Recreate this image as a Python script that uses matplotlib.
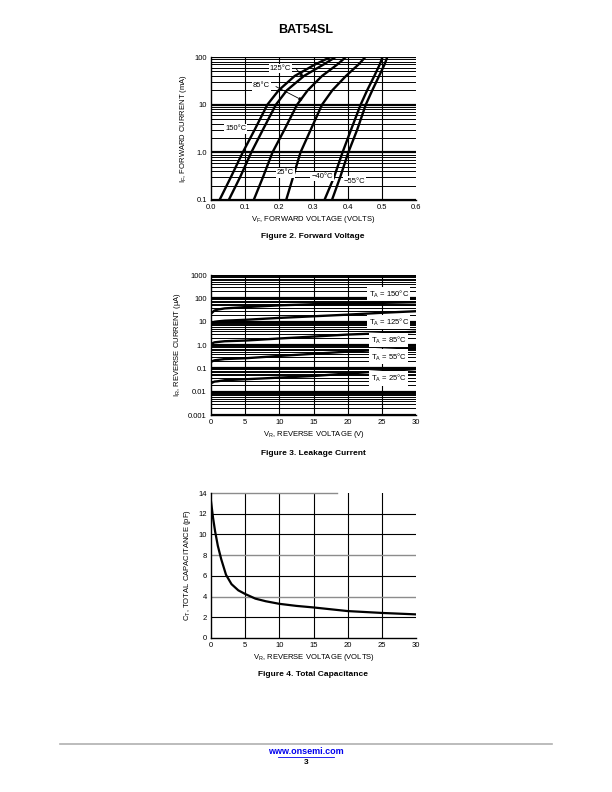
import matplotlib
matplotlib.use("Agg")
import matplotlib.pyplot as plt
from matplotlib.ticker import FixedLocator, NullFormatter
import numpy as np

plt.rcParams['font.family'] = ['Liberation Sans', 'DejaVu Sans']

# ---- Figure 2: forward voltage (V) at each forward current (mA)
if_ma = [0.1, 0.3, 1, 3, 10, 20, 40, 70, 100]
vf_150 = [0.025, 0.058, 0.093, 0.128, 0.165, 0.198, 0.245, 0.305, 0.350]
vf_125 = [0.052, 0.085, 0.118, 0.152, 0.190, 0.222, 0.272, 0.330, 0.365]
vf_85 = [0.125, 0.152, 0.180, 0.215, 0.252, 0.283, 0.325, 0.370, 0.395]
vf_25 = [0.220, 0.240, 0.262, 0.292, 0.325, 0.355, 0.395, 0.432, 0.452]
vf_m40 = [0.332, 0.360, 0.385, 0.410, 0.438, 0.457, 0.478, 0.494, 0.502]
vf_m55 = [0.354, 0.378, 0.402, 0.428, 0.453, 0.472, 0.492, 0.508, 0.516]
fwd_labels = ["150°C", "125°C", "85°C", "25°C", "\u221240°C", "\u221255°C"]

# ---- Figure 3: reverse current (uA) vs reverse voltage (V)
vr = [0, 0.5, 1, 2, 5, 10, 15, 20, 25, 30]
ir_150 = [22, 30, 33, 37, 42, 50, 56, 60, 64, 68]
ir_125 = [8.5, 9.8, 10.3, 11.0, 12.0, 14.5, 17, 20, 24, 28]
ir_85 = [1.1, 1.3, 1.35, 1.45, 1.55, 1.9, 2.3, 2.8, 3.2, 3.7]
ir_55 = [0.19, 0.22, 0.23, 0.25, 0.27, 0.34, 0.42, 0.52, 0.62, 0.72]
ir_25 = [0.023, 0.027, 0.028, 0.031, 0.034, 0.040, 0.047, 0.060, 0.075, 0.093]
rev_labels = ["150", "125", "85", "55", "25"]

# ---- Figure 4: total capacitance (pF) vs reverse voltage (V)
vc = [0, 0.3, 0.6, 1.0, 1.5, 2.2, 3.0, 4.0, 5.0, 6.5, 8, 10, 12.5, 15, 20, 25, 30]
ct = [13.2, 11.6, 10.3, 8.9, 7.6, 6.1, 5.2, 4.6, 4.25, 3.8, 3.55, 3.3, 3.1, 2.95, 2.6, 2.42, 2.28]

W, H = 612, 792
fig = plt.figure(figsize=(W / 100, H / 100), dpi=100)


def box(x0, y0, x1, y1):
    return [x0 / W, 1 - y1 / H, (x1 - x0) / W, (y1 - y0) / H]


tick_fs = 5.5
lab_fs = 5.5


def style(ax):
    ax.tick_params(length=0, labelsize=tick_fs, pad=3)
    for s in ['top', 'right']:
        ax.spines[s].set_visible(False)
    ax.spines['left'].set_linewidth(1.0)
    ax.spines['bottom'].set_linewidth(1.0)


def log_grid(ax, lo, hi):
    decs = range(int(np.log10(lo)), int(np.log10(hi)) + 1)
    for d in decs:
        ax.axhline(10.0 ** d, color='k', lw=1.6, zorder=1)
        if 10.0 ** d < hi:
            for m in range(2, 10):
                ax.axhline(m * 10.0 ** d, color='k', lw=0.7, zorder=1)


# ===================== Figure 2 =====================
ax2 = fig.add_axes(box(211, 57, 416, 200))
ax2.set_yscale('log')
ax2.set_xlim(0, 0.6)
ax2.set_ylim(0.1, 100)
log_grid(ax2, 0.1, 100)
for v in np.arange(0.1, 0.55, 0.1):
    ax2.axvline(v, color='k', lw=0.8, zorder=1)
for vf in [vf_150, vf_125, vf_85, vf_25, vf_m40, vf_m55]:
    ax2.plot(vf, if_ma, color='k', lw=1.7, zorder=3, solid_joinstyle='round')
ax2.set_xticks(np.arange(0, 0.61, 0.1))
ax2.set_xticklabels([f"{v:.1f}" for v in np.arange(0, 0.61, 0.1)])
ax2.yaxis.set_major_locator(FixedLocator([0.1, 1, 10, 100]))
ax2.yaxis.set_minor_formatter(NullFormatter())
ax2.set_yticklabels(["0.1", "1.0", "10", "100"])
ax2.tick_params(which='minor', length=0)
style(ax2)
bb = dict(facecolor='white', edgecolor='none', pad=0.8)
lab_pos = [(0.072, 3.1), (0.203, 58), (0.148, 24.7), (0.218, 0.37), (0.326, 0.31), (0.42, 0.25)]
for t, (x, y) in zip(fwd_labels, lab_pos):
    ax2.text(x, y, t, fontsize=5.5, ha='center', va='center', bbox=bb, zorder=5)
ax2.annotate("", xy=(0.270, 38), xytext=(0.248, 58), zorder=6,
             arrowprops=dict(arrowstyle='-|>', lw=0.6, color='k', mutation_scale=5, shrinkA=0, shrinkB=0))
ax2.annotate("", xy=(0.268, 12.3), xytext=(0.19, 24), zorder=6,
             arrowprops=dict(arrowstyle='-|>', lw=0.6, color='k', mutation_scale=5, shrinkA=0, shrinkB=0))
ax2.set_xlabel("V$_\\mathregular{F}$, FORWARD VOLTAGE (VOLTS)", fontsize=lab_fs, labelpad=2)
ax2.set_ylabel("I$_\\mathregular{F}$, FORWARD CURRENT (mA)", fontsize=lab_fs, labelpad=4)

# ===================== Figure 3 =====================
ax3 = fig.add_axes(box(211, 275, 416, 415))
ax3.set_yscale('log')
ax3.set_xlim(0, 30)
ax3.set_ylim(0.001, 1000)
log_grid(ax3, 0.001, 1000)
for v in range(5, 30, 5):
    ax3.axvline(v, color='k', lw=0.8, zorder=1)
for ir in [ir_150, ir_125, ir_85, ir_55, ir_25]:
    ax3.plot(vr, ir, color='k', lw=1.7, zorder=3)
ax3.set_xticks(range(0, 31, 5))
ax3.yaxis.set_major_locator(FixedLocator([0.001, 0.01, 0.1, 1, 10, 100, 1000]))
ax3.yaxis.set_minor_formatter(NullFormatter())
ax3.set_yticklabels(["0.001", "0.01", "0.1", "1.0", "10", "100", "1000"])
ax3.tick_params(which='minor', length=0)
style(ax3)
rev_y = [153, 9.7, 1.64, 0.31, 0.038]
for t, y in zip(rev_labels, rev_y):
    ax3.text(26.0, y, "T$_\\mathregular{A}$ = " + t + "°C", fontsize=5.5, ha='center', va='center',
             bbox=dict(facecolor='white', edgecolor='none', pad=1.2), zorder=5)
ax3.set_xlabel("V$_\\mathregular{R}$, REVERSE VOLTAGE (V)", fontsize=lab_fs, labelpad=2)
ax3.set_ylabel("I$_\\mathregular{R}$, REVERSE CURRENT (\u03bcA)", fontsize=lab_fs, labelpad=4)

# ===================== Figure 4 =====================
ax4 = fig.add_axes(box(211, 493, 416, 638))
ax4.set_xlim(0, 30)
ax4.set_ylim(0, 14)
for v in range(5, 30, 5):
    ax4.axvline(v, color='k', lw=0.8, zorder=1)
for c in [2, 6, 10, 12]:
    ax4.axhline(c, color='k', lw=0.8, zorder=1)
for c in [4, 8]:
    ax4.axhline(c, color='#8c8c8c', lw=1.0, zorder=1)
ax4.plot([0, 18.5], [14, 14], color='#8c8c8c', lw=1.0, zorder=1, clip_on=False)
ax4.plot(vc, ct, color='k', lw=1.6, zorder=3)
ax4.set_xticks(range(0, 31, 5))
ax4.set_yticks(range(0, 15, 2))
style(ax4)
ax4.set_xlabel("V$_\\mathregular{R}$, REVERSE VOLTAGE (VOLTS)", fontsize=lab_fs, labelpad=2)
ax4.set_ylabel("C$_\\mathregular{T}$, TOTAL CAPACITANCE (pF)", fontsize=lab_fs, labelpad=4)

# ---- page text
fig.text(306 / W, 1 - 30 / H, "BAT54SL", fontsize=9, weight='bold', ha='center', va='center')
fig.text(313 / W, 1 - 236 / H, "Figure 2. Forward Voltage", fontsize=6, weight='bold', ha='center', va='center')
fig.text(313 / W, 1 - 453 / H, "Figure 3. Leakage Current", fontsize=6, weight='bold', ha='center', va='center')
fig.text(313 / W, 1 - 674 / H, "Figure 4. Total Capacitance", fontsize=6, weight='bold', ha='center', va='center')
fig.add_artist(plt.Line2D([60 / W, 552 / W], [1 - 744 / H, 1 - 744 / H], color='#b0b0b0', lw=1.2))
fig.text(306 / W, 1 - 752 / H, "www.onsemi.com", fontsize=6.5, weight='bold', color='#0000ee',
         ha='center', va='center')
fig.add_artist(plt.Line2D([278 / W, 334 / W], [1 - 756.5 / H, 1 - 756.5 / H], color='#0000ee', lw=0.6))
fig.text(306 / W, 1 - 763 / H, "3", fontsize=6, weight='bold', ha='center', va='center')

fig.savefig("out.png", dpi=100)
